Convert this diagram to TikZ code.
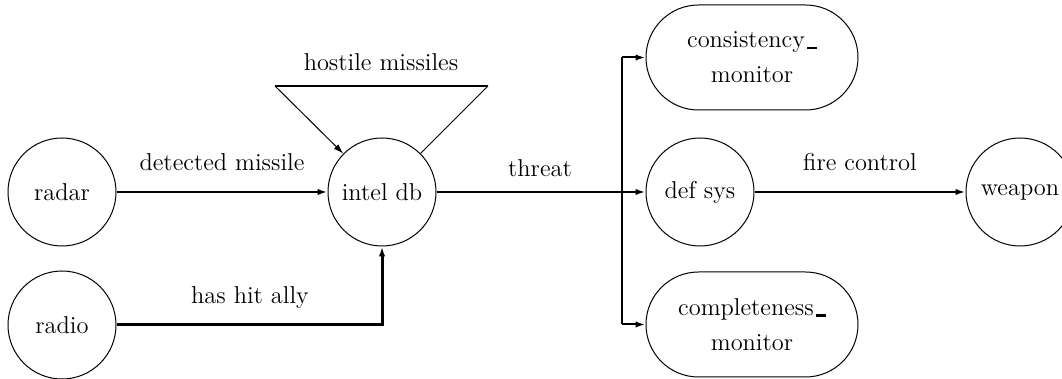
\documentclass[tikz,border=0pt]{standalone}
\usetikzlibrary{arrows.meta,calc}
\newcommand{\usc}{\kern1pt\rule[-0.6pt]{5pt}{1.2pt}}
\begin{document}
\begin{tikzpicture}[x=0.5pt,y=-0.5pt,
  font=\fontsize{12.2}{14.6}\selectfont,
  proc/.style={draw,circle,line width=0.5pt,minimum size=54pt,inner sep=0pt},
  mon/.style={draw,rectangle,rounded corners=26.25pt,line width=0.5pt,minimum width=106pt,minimum height=52.5pt,inner sep=0pt,align=center,font=\fontsize{12.2}{17.5}\selectfont},
  flow/.style={line width=1pt,-{Latex[length=5pt,width=3.2pt]}},
  thin/.style={line width=0.5pt},
  lbl/.style={inner sep=0pt}]
\useasboundingbox (0,0) rectangle (1062,379);
\node[proc] (radar) at (62,192) {radar};
\node[proc] (radio) at (62,325) {radio};
\node[proc] (intel) at (382,192) {intel db};
\node[proc] (def) at (700,192) {def sys};
\node[proc] (weapon) at (1020,192) {weapon};
\node[mon] (cons) at (752,57.5) {consistency\usc\\monitor};
\node[mon] (comp) at (752,324.5) {completeness\usc\\monitor};
% store triangle
\coordinate (tl) at (275,86);
\coordinate (tr) at (488,86);
\draw[line width=0.8pt] (tl) -- (tr);
\draw[thin,-{Latex[length=5pt,width=3.2pt]}] (tl) -- (intel);
\draw[thin] (tr) -- (intel);
\node[lbl] (hl) at (381,62) {hostile missiles};
% flows
\draw[flow] (radar) -- node[lbl,above=10pt] (l1) {detected missile} (intel);
\coordinate (bend) at (382,325);
\draw[line width=1.5pt,-{Latex[length=5pt,width=3.2pt]}] (radio.east) -- (bend) -- (intel.south);
\node[lbl] (l2) at (250,298) {has hit ally};
\coordinate (split) at (622,192);
\coordinate (st) at (622,57.5);
\coordinate (sb) at (622,324.5);
\draw[line width=1pt] (intel.east) -- (split);
\draw[flow] (split) -- (def.west);
\draw[line width=1pt] (st) -- (sb);
\draw[flow] (st) -- (cons.west);
\draw[flow] (sb) -- (comp.west);
\node[lbl] (l3) at (540,168) {threat};
\draw[flow] (def) -- node[lbl,above=10pt] (l4) {fire control} (weapon);
\end{tikzpicture}
\end{document}
